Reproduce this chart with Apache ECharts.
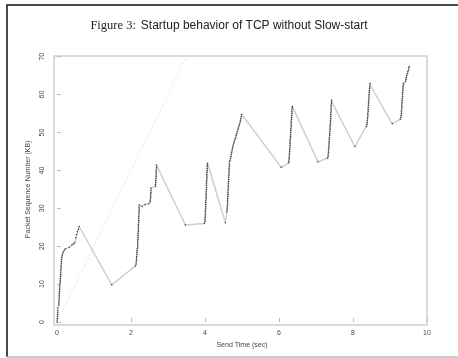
<!DOCTYPE html>
<html>
<head>
<meta charset="utf-8">
<script src="https://cdn.jsdelivr.net/npm/echarts@6/dist/echarts.min.js"></script>
<style>html,body{margin:0;padding:0;background:#fff;}#c{width:458px;height:358px;}</style>
</head>
<body>
<div id="c"></div>
<script>
// Send time (sec) of each packet
var sendTime = [
0.00,0.01,0.01,0.01,0.02,0.02,0.02,0.02,
0.05,0.05,0.05,0.06,0.06,0.06,0.06,0.07,0.07,0.07,0.07,0.08,
0.09,0.09,0.09,0.10,0.10,0.10,0.10,0.11,0.11,0.11,0.12,0.12,0.12,0.13,0.14,0.15,0.17,0.20,0.23,
0.33,0.40,0.44,0.48,0.51,0.53,0.55,0.58,0.60,
1.48,
2.12,
2.14,2.14,2.15,2.15,2.15,2.16,2.16,2.16,2.17,2.18,2.18,2.18,2.18,2.19,2.19,2.19,2.19,2.20,2.20,2.20,2.20,2.20,2.21,2.21,2.21,2.21,2.21,2.22,2.22,2.22,2.22,2.22,
2.30,2.38,2.48,
2.52,2.52,2.53,2.53,2.53,2.54,2.54,2.54,
2.66,2.66,2.67,2.67,2.67,2.68,2.68,2.68,2.68,2.69,2.69,2.69,
3.47,
3.98,
4.00,4.00,4.00,4.01,4.01,4.01,4.01,4.02,4.02,4.02,4.02,4.02,4.03,4.03,4.03,4.03,4.03,4.04,4.04,4.04,4.04,4.04,4.05,4.05,4.05,4.05,4.05,4.06,4.06,4.06,4.06,4.07,
4.55,
4.59,4.60,4.60,4.60,4.61,4.61,4.61,4.61,4.62,4.62,4.62,4.62,4.63,4.63,4.63,4.63,4.64,4.64,4.64,4.64,4.65,4.65,4.65,4.65,4.66,4.66,4.66,
4.68,4.69,4.70,4.71,4.72,4.73,4.74,4.75,4.76,4.78,4.79,4.81,4.83,4.84,4.86,4.87,4.89,4.90,4.92,4.93,4.95,4.96,4.97,4.98,4.99,
6.06,
6.26,
6.27,6.27,6.28,6.28,6.28,6.29,6.29,6.29,6.30,6.30,6.30,6.30,6.31,6.31,6.31,6.32,6.32,6.32,6.33,6.33,6.33,6.33,6.34,6.34,6.34,6.35,6.35,6.35,6.36,6.36,
7.05,
7.31,
7.33,7.33,7.34,7.34,7.34,7.35,7.35,7.35,7.36,7.36,7.36,7.37,7.37,7.37,7.38,7.38,7.38,7.39,7.39,7.39,7.40,7.40,7.40,7.40,7.41,7.41,7.41,7.41,7.42,7.42,7.42,
8.05,
8.36,
8.38,8.38,8.39,8.39,8.40,8.40,8.40,8.41,8.41,8.41,8.42,8.42,8.42,8.43,8.43,8.43,8.44,8.44,8.44,8.45,8.45,8.46,8.46,
9.06,
9.28,
9.30,9.30,9.31,9.31,9.31,9.32,9.32,9.32,9.33,9.33,9.33,9.34,9.34,9.34,9.35,9.35,9.35,9.36,9.36,
9.42,9.43,9.44,9.45,9.47,9.48,9.50,9.51,9.52
];
// Packet sequence number (KB) of each packet
var seqKB = [
0,0.5,1,1.5,2,2.5,3,3.7,
4.5,5,5.5,6,6.5,7,7.5,8,8.5,9,9.5,10,
10.5,11,11.5,12,12.5,13,13.5,14,14.5,15,15.5,16,16.5,17,17.5,18,18.5,19,19.3,
19.7,20.3,20.6,20.9,22.2,23,23.8,24.5,25.2,
9.8,
14.8,
15.3,15.8,16.3,16.8,17.3,17.8,18.3,18.8,19.3,19.8,20.3,20.8,21.3,21.8,22.3,22.8,23.3,23.8,24.3,24.8,25.3,25.8,26.3,26.8,27.3,27.8,28.3,28.8,29.3,29.8,30.3,30.9,
30.5,31.0,31.2,
31.7,32.2,32.7,33.2,33.7,34.2,34.7,35.3,
35.8,36.3,36.8,37.3,37.8,38.3,38.8,39.3,39.8,40.3,40.8,41.4,
25.6,
26.0,
26.5,27,27.5,28,28.5,29,29.5,30,30.5,31,31.5,32,32.5,33,33.5,34,34.5,35,35.5,36,36.5,37,37.5,38,38.5,39,39.5,40,40.5,41,41.5,41.9,
26.2,
29.1,29.6,30.1,30.6,31.1,31.6,32.1,32.6,33.1,33.6,34.1,34.6,35.1,35.6,36.1,36.6,37.1,37.6,38.1,38.6,39.1,39.6,40.1,40.6,41.1,41.6,42.3,
42.7,43.2,43.7,44.2,44.7,45.2,45.7,46.2,46.7,47.2,47.7,48.2,48.7,49.2,49.7,50.2,50.7,51.2,51.7,52.2,52.7,53.2,53.7,54.2,54.8,
40.8,
42.0,
42.5,43,43.5,44,44.5,45,45.5,46,46.5,47,47.5,48,48.5,49,49.5,50,50.5,51,51.5,52,52.5,53,53.5,54,54.5,55,55.5,56,56.5,56.9,
42.3,
43.2,
43.7,44.2,44.7,45.2,45.7,46.2,46.7,47.2,47.7,48.2,48.7,49.2,49.7,50.2,50.7,51.2,51.7,52.2,52.7,53.2,53.7,54.2,54.7,55.2,55.7,56.2,56.7,57.2,57.7,58.2,58.6,
46.3,
51.6,
52.1,52.6,53.1,53.6,54.1,54.6,55.1,55.6,56.1,56.6,57.1,57.6,58.1,58.6,59.1,59.6,60.1,60.6,61.1,61.6,62.1,62.6,63.0,
52.3,
53.5,
54,54.5,55,55.5,56,56.5,57,57.5,58,58.5,59,59.5,60,60.5,61,61.5,62,62.5,63,
63.5,64,64.5,65,65.5,66,66.5,67,67.4
];
// Reference rate line (dotted)
var refTime = [0, 3.5];
var refSeq = [0, 70];
var xTicks = [0, 2, 4, 6, 8, 10];
var yTicks = [0, 10, 20, 30, 40, 50, 60, 70];

var pts = sendTime.map(function (t, i) { return [t, seqKB[i]]; });
var refPts = refTime.map(function (t, i) { return [t, refSeq[i]]; });

var chart = echarts.init(document.getElementById('c'), null, {renderer: 'canvas'});
var labelFont = {fontFamily: 'Liberation Sans, Arial, sans-serif', fontSize: 7, color: '#444'};
chart.setOption({
  animation: false,
  backgroundColor: '#fff',
  title: {
    left: 'center',
    top: 12,
    text: '{a|Figure 3:} {b|Startup behavior of TCP without Slow-start}',
    textStyle: {
      fontWeight: 'normal',
      rich: {
        a: {fontFamily: 'Liberation Serif, Times New Roman, serif', fontSize: 12.5, fontWeight: 'normal', color: '#222'},
        b: {fontFamily: 'Liberation Sans, Arial, sans-serif', fontSize: 12, fontWeight: 'normal', color: '#222'}
      }
    }
  },
  graphic: [
    {type: 'polyline', shape: {points: [[458, 5], [7, 5], [7, 357]]}, style: {stroke: '#111', lineWidth: 1.5, fill: null}},
    {type: 'line', shape: {x1: 7, y1: 357, x2: 458, y2: 357}, style: {stroke: '#bbb', lineWidth: 1.5}}
  ],
  grid: [
    {left: 54, top: 56, width: 373, height: 269, show: true, borderColor: '#d0d0d0', borderWidth: 1.5, backgroundColor: 'transparent'},
    {left: 57, top: 56.7, width: 370, height: 265.3}
  ],
  xAxis: [
    {gridIndex: 0, type: 'value', min: 0, max: 1, show: false},
    {
      gridIndex: 1, type: 'value', min: 0, max: 10, interval: 2, offset: 3,
      name: 'Send Time (sec)', nameLocation: 'middle', nameGap: 16,
      nameTextStyle: labelFont,
      axisLine: {show: false},
      axisTick: {show: true, inside: true, length: 4, lineStyle: {color: '#bbb'}},
      axisLabel: Object.assign({margin: 5}, labelFont),
      splitLine: {show: false}
    }
  ],
  yAxis: [
    {gridIndex: 0, type: 'value', min: 0, max: 1, show: false},
    {
      gridIndex: 1, type: 'value', min: 0, max: 70, interval: 10, offset: 3,
      name: 'Packet Sequence Number (KB)', nameLocation: 'middle', nameGap: 19,
      nameTextStyle: labelFont,
      axisLine: {show: false},
      axisTick: {show: true, inside: true, length: 4, lineStyle: {color: '#bbb'}},
      axisLabel: Object.assign({margin: 8, rotate: 90}, labelFont),
      splitLine: {show: false}
    }
  ],
  series: [
    {
      type: 'line', xAxisIndex: 1, yAxisIndex: 1, data: refPts,
      symbol: 'none', lineStyle: {color: '#dcdcdc', width: 1, type: [1.5, 2]}, silent: true
    },
    {
      type: 'line', xAxisIndex: 1, yAxisIndex: 1, data: pts,
      symbol: 'circle', symbolSize: 1.5, showAllSymbol: true,
      itemStyle: {color: '#3a3a3a'},
      lineStyle: {color: '#cfcfcf', width: 1.5}
    }
  ]
});
</script>
</body>
</html>
